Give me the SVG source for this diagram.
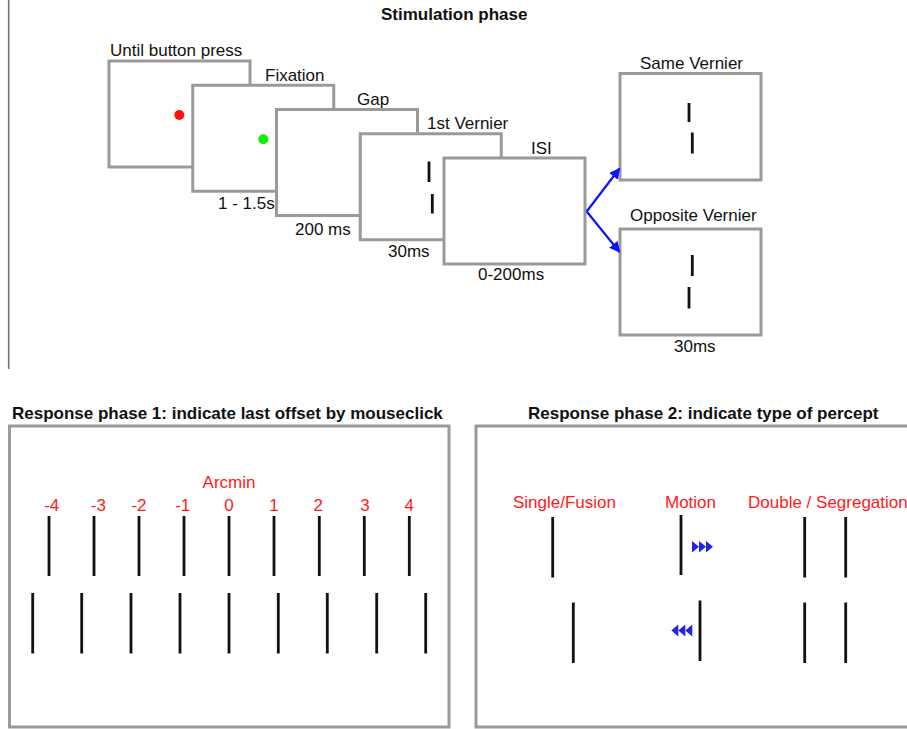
<svg xmlns="http://www.w3.org/2000/svg" width="907" height="729" viewBox="0 0 907 729">
  <style>
    text { font-family: "Liberation Sans", Arial, sans-serif; font-size: 17px; fill: #111; }
    .title { font-weight: bold; }
    .red { fill: #ff1a1a; }
    .screen { fill: #fff; stroke: #9a9a9a; stroke-width: 3; }
    .tick { stroke: #111; stroke-width: 2.8; }
    .conn { stroke: #0a14ff; stroke-width: 2.2; fill: none; }
    .tri { fill: #2323e0; }
  </style>
  <defs>
    <marker id="head" viewBox="0 0 10 10" refX="9" refY="5" markerWidth="5" markerHeight="5" orient="auto" markerUnits="strokeWidth">
      <path d="M0,0 L10,5 L0,10 z" fill="#0a14ff"/>
    </marker>
  </defs>
  <rect width="907" height="729" fill="#fff"/>

  <!-- left divider -->
  <line x1="8.7" y1="0" x2="8.7" y2="369" stroke="#777" stroke-width="1.6"/>

  <text class="title" x="381" y="20">Stimulation phase</text>

  <!-- stimulation sequence -->
  <g id="screen-wait">
    <rect class="screen" x="109" y="61" width="141" height="106"/>
    <circle cx="179.3" cy="115" r="5" fill="#ff1010"/>
    <text x="110" y="55.5">Until button press</text>
  </g>
  <g id="screen-fixation">
    <rect class="screen" x="192.75" y="85.25" width="141" height="106"/>
    <circle cx="263.3" cy="139.3" r="5" fill="#10ee10"/>
    <text x="265" y="81">Fixation</text>
    <text x="218" y="209">1 - 1.5s</text>
  </g>
  <g id="screen-gap">
    <rect class="screen" x="276.5" y="109.5" width="141" height="106"/>
    <text x="357" y="104.5">Gap</text>
    <text x="295" y="235">200 ms</text>
  </g>
  <g id="screen-vernier1">
    <rect class="screen" x="360.25" y="133.75" width="141" height="106"/>
    <line class="tick" x1="429" y1="161.5" x2="429" y2="182"/>
    <line class="tick" x1="432.3" y1="194" x2="432.3" y2="213.5"/>
    <text x="427" y="128.5">1st Vernier</text>
    <text x="388" y="257">30ms</text>
  </g>
  <g id="screen-isi">
    <rect class="screen" x="444" y="158" width="141" height="106"/>
    <text x="531" y="153.5">ISI</text>
    <text x="478" y="280">0-200ms</text>
  </g>
  <g id="screen-same">
    <rect class="screen" x="620" y="73.5" width="141" height="106.5"/>
    <line class="tick" x1="689" y1="103" x2="689" y2="122"/>
    <line class="tick" x1="692.3" y1="132.5" x2="692.3" y2="153.5"/>
    <text x="640" y="69">Same Vernier</text>
  </g>
  <g id="screen-opposite">
    <rect class="screen" x="620" y="229" width="141" height="106"/>
    <line class="tick" x1="692.3" y1="255" x2="692.3" y2="276"/>
    <line class="tick" x1="689" y1="287" x2="689" y2="308.5"/>
    <text x="630" y="221">Opposite Vernier</text>
    <text x="674" y="352">30ms</text>
  </g>

  <!-- branch arrows -->
  <g id="connectors">
    <path class="conn" d="M586.7,211.5 L619.5,168.5" marker-end="url(#head)"/>
    <path class="conn" d="M586.7,211.5 L619.5,252" marker-end="url(#head)"/>
  </g>

  <!-- response phase 1 -->
  <g id="response-1">
    <text class="title" x="12" y="419">Response phase 1: indicate last offset by mouseclick</text>
    <rect class="screen" x="9.5" y="426" width="439.5" height="301"/>
    <text class="red" x="229" y="488" text-anchor="middle">Arcmin</text>
    <g class="red" text-anchor="middle">
      <text class="red" x="51.7" y="511">-4</text>
      <text class="red" x="98.3" y="511">-3</text>
      <text class="red" x="139" y="511">-2</text>
      <text class="red" x="182.7" y="511">-1</text>
      <text class="red" x="229" y="511">0</text>
      <text class="red" x="274" y="511">1</text>
      <text class="red" x="318.3" y="511">2</text>
      <text class="red" x="365" y="511">3</text>
      <text class="red" x="409.3" y="511">4</text>
    </g>
    <g class="tick">
      <line x1="49" y1="516" x2="49" y2="576"/>
      <line x1="94" y1="516" x2="94" y2="576"/>
      <line x1="139" y1="516" x2="139" y2="576"/>
      <line x1="184" y1="516" x2="184" y2="576"/>
      <line x1="229" y1="516" x2="229" y2="576"/>
      <line x1="274" y1="516" x2="274" y2="576"/>
      <line x1="319.3" y1="516" x2="319.3" y2="576"/>
      <line x1="364.3" y1="516" x2="364.3" y2="576"/>
      <line x1="409.3" y1="516" x2="409.3" y2="576"/>
      <line x1="32.7" y1="593" x2="32.7" y2="653.5"/>
      <line x1="81.7" y1="593" x2="81.7" y2="653.5"/>
      <line x1="131" y1="593" x2="131" y2="653.5"/>
      <line x1="180" y1="593" x2="180" y2="653.5"/>
      <line x1="229" y1="593" x2="229" y2="653.5"/>
      <line x1="278.3" y1="593" x2="278.3" y2="653.5"/>
      <line x1="327.3" y1="593" x2="327.3" y2="653.5"/>
      <line x1="376.7" y1="593" x2="376.7" y2="653.5"/>
      <line x1="425.7" y1="593" x2="425.7" y2="653.5"/>
    </g>
  </g>

  <!-- response phase 2 -->
  <g id="response-2">
    <text class="title" x="528" y="419">Response phase 2: indicate type of percept</text>
    <rect class="screen" x="476" y="426" width="440" height="301"/>
    <text class="red" x="513" y="508">Single/Fusion</text>
    <text class="red" x="665" y="508">Motion</text>
    <text class="red" x="748" y="508">Double / Segregation</text>
    <g class="tick">
      <line x1="552.7" y1="517" x2="552.7" y2="577.5"/>
      <line x1="573.3" y1="602.5" x2="573.3" y2="663"/>
      <line x1="681" y1="515" x2="681" y2="575"/>
      <line x1="700" y1="600.5" x2="700" y2="661"/>
      <line x1="804.7" y1="517" x2="804.7" y2="577.5"/>
      <line x1="845.7" y1="517" x2="845.7" y2="577.5"/>
      <line x1="804.7" y1="602.5" x2="804.7" y2="663"/>
      <line x1="845.7" y1="602.5" x2="845.7" y2="663"/>
    </g>
    <g class="tri">
      <path d="M692,541 L699,546.8 L692,552.6 z"/>
      <path d="M699,541 L706,546.8 L699,552.6 z"/>
      <path d="M706,541 L713,546.8 L706,552.6 z"/>
      <path d="M692.3,624.5 L685.3,630.5 L692.3,636.5 z"/>
      <path d="M685.3,624.5 L678.3,630.5 L685.3,636.5 z"/>
      <path d="M678.3,624.5 L671.3,630.5 L678.3,636.5 z"/>
    </g>
  </g>
</svg>
